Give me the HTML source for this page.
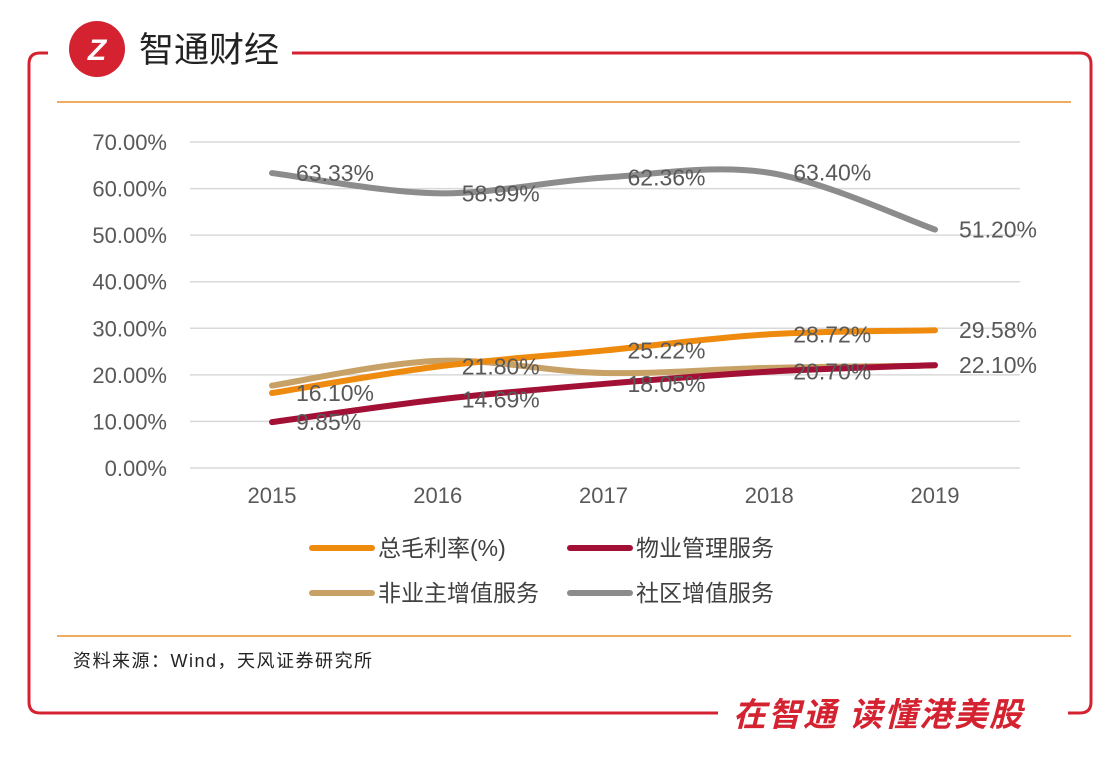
<!DOCTYPE html>
<html><head><meta charset="utf-8"><style>
body{margin:0;background:#fff;font-family:"Liberation Sans","Noto Sans CJK SC",sans-serif}
svg text{font-family:"Liberation Sans","Noto Sans CJK SC",sans-serif}
</style></head><body>
<svg id="c" width="1120" height="752" viewBox="0 0 1120 752" xmlns="http://www.w3.org/2000/svg">
<rect width="1120" height="752" fill="#fff"/>
<path d="M48,53 H40 Q29,53 29,64 V702 Q29,713 40,713 H718" fill="none" stroke="#d42230" stroke-width="3"/>
<path d="M292,53 H1080 Q1091,53 1091,64 V702 Q1091,713 1080,713 H1068" fill="none" stroke="#d42230" stroke-width="3"/>
<circle cx="97" cy="49" r="28" fill="#d42230"/>
<text x="97" y="60" text-anchor="middle" font-size="30" font-weight="bold" fill="#fff" font-style="italic">Z</text>
<text x="139" y="62" font-size="35" fill="#222">智通财经</text>
<line x1="57" y1="102" x2="1071" y2="102" stroke="#e8902a" stroke-width="1.5"/>
<line x1="57" y1="636" x2="1071" y2="636" stroke="#e8902a" stroke-width="1.5"/>
<text x="73" y="667" font-size="18" letter-spacing="1.5" fill="#222">资料来源：Wind，天风证券研究所</text>
<text x="733" y="726" font-size="33" font-weight="bold" letter-spacing="2" fill="#d42230" font-style="italic">在智通  读懂港美股</text>
<g id="grid"></g><g id="lines"></g><g id="labels"></g><g id="legend"></g>
</svg>
<script>
const years=['2015','2016','2017','2018','2019'];
const yTicks=[0,10,20,30,40,50,60,70];
const gross=[16.10,21.80,25.22,28.72,29.58];
const propMgmt=[9.85,14.69,18.05,20.70,22.10];
const nonOwner=[17.7,23.0,20.4,21.5,22.0];
const community=[63.33,58.99,62.36,63.40,51.20];
const NS='http://www.w3.org/2000/svg';
const X=i=>272+i*165.75, Y=v=>468-v*4.657;
function mk(t,a,p){const e=document.createElementNS(NS,t);for(const k in a)e.setAttribute(k,a[k]);p.appendChild(e);return e;}
const g=document.getElementById('grid');
yTicks.forEach(t=>{
 const l=mk('line',{x1:190,x2:1020,y1:Y(t),y2:Y(t),stroke:'#d9d9d9','stroke-width':1.5},g);
 
 
 const tx=mk('text',{x:167,y:Y(t)+8,'text-anchor':'end','font-size':22,fill:'#595959'},g);
 tx.textContent=t.toFixed(2)+'%';
 
 
});
years.forEach((y,i)=>{
 const tx=mk('text',{x:X(i),y:503,'text-anchor':'middle','font-size':22,fill:'#595959'},g);
 tx.textContent=y;
 
 
});
function path(vals){
 const p=vals.map((v,i)=>[X(i),Y(v)]);let d='M'+p[0];
 for(let i=0;i<p.length-1;i++){const p0=p[i-1]||p[i],p1=p[i],p2=p[i+1],p3=p[i+2]||p2;
  const c1=[p1[0]+(p2[0]-p0[0])/6,p1[1]+(p2[1]-p0[1])/6],c2=[p2[0]-(p3[0]-p1[0])/6,p2[1]-(p3[1]-p1[1])/6];
  d+=' C'+c1+' '+c2+' '+p2;}
 return d;}
const series=[
 {n:'gross-margin',v:gross,c:'#ee8a0e',lab:true,name:'总毛利率(%)'},
 {n:'property-management',v:propMgmt,c:'#a31036',lab:true,name:'物业管理服务'},
 {n:'non-owner-vas',v:nonOwner,c:'#c8a166',lab:false,name:'非业主增值服务'},
 {n:'community-vas',v:community,c:'#8c8c8c',lab:true,name:'社区增值服务'}];
const L=document.getElementById('lines'),LB=document.getElementById('labels'),LG=document.getElementById('legend');
[2,3,0,1].forEach(k=>{const s=series[k];
 const p=mk('path',{d:path(s.v),fill:'none',stroke:s.c,'stroke-width':6,'stroke-linecap':'round'},L);
 
 
});
series.forEach(s=>{if(!s.lab)return;s.v.forEach((v,i)=>{
 const tx=mk('text',{x:X(i)+24,y:Y(v)+8,'font-size':23,fill:'#595959'},LB);
 tx.textContent=v.toFixed(2)+'%';
 
 
});});
const lp=[[312,548],[570,548],[312,593],[570,593]];
series.forEach((s,i)=>{const [x,y]=lp[i];
 const l=mk('line',{x1:x,x2:x+60,y1:y,y2:y,stroke:s.c,'stroke-width':6,'stroke-linecap':'round'},LG);
 
 
 const tx=mk('text',{x:x+66,y:y+8,'font-size':23,fill:'#404040'},LG);
 tx.textContent=s.name;
 
 
});
</script>
</body></html>
